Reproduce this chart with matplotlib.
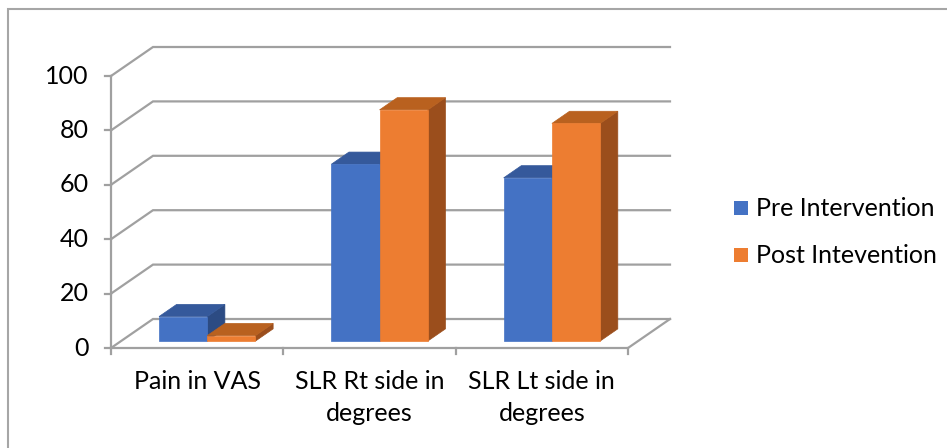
import matplotlib
matplotlib.use("Agg")
import matplotlib.pyplot as plt
from matplotlib.patches import Polygon, Rectangle

plt.rcParams['font.family'] = ['Lato', 'DejaVu Sans']

# data
categories = ['Pain in VAS', 'SLR Rt side in\ndegrees', 'SLR Lt side in\ndegrees']
pre = [9, 65, 60]
post = [2, 85, 80]
series_names = ['Pre Intervention', 'Post Intevention']
y_ticks = [0, 20, 40, 60, 80, 100]

# colours: front, top, side
blue = ('#4472C4', '#35599B', '#2C4B83')
orange = ('#ED7D31', '#B9611F', '#9B4E1C')
grid_col = '#A0A0A0'

# oblique depth offset in data units (cat units, value units)
DX, DY = 0.2437, 10.66
F0, F1 = 0.24, 0.66      # bar depth span as a fraction of floor depth
BW = 0.28
FS = 18

fig = plt.figure(figsize=(9.47, 4.48), dpi=100)
ax = fig.add_axes([111 / 947, 100 / 448, 517 / 947, 272 / 448])
ax.set_xlim(0, 3)
ax.set_ylim(0, 100)
ax.axis('off')

# outer chart border (only left and top visible)
fig.patches.append(Rectangle((8 / 947, -0.1), 1.2, (439 / 448) + 0.1,
                             transform=fig.transFigure, fill=False,
                             edgecolor='#A6A6A6', linewidth=1.5))

lw = 1.6
# gridlines on left wall and back wall
for v in y_ticks:
    ax.plot([0, DX, 3 + DX], [v, v + DY, v + DY], color=grid_col, lw=lw,
            clip_on=False, solid_joinstyle='miter', zorder=1)
    ax.plot([-0.035, 0], [v, v], color=grid_col, lw=lw, clip_on=False, zorder=1)
    ax.text(-0.13, v, str(v), ha='right', va='center', fontsize=FS)

# floor and front axis
ax.plot([0, 3, 3 + DX], [0, 0, DY], color=grid_col, lw=lw, clip_on=False, zorder=1)
ax.plot([0, 0], [0, 100], color=grid_col, lw=lw, clip_on=False, zorder=1)
for i in range(4):
    ax.plot([i, i], [0, -2.3], color=grid_col, lw=lw, clip_on=False, zorder=1)


def bar3d(x0, x1, h, cols, z):
    bx, by = F0 * DX, F0 * DY
    ex, ey = (F1 - F0) * DX, (F1 - F0) * DY
    fx0, fx1 = x0 + bx, x1 + bx
    front = [(fx0, by), (fx1, by), (fx1, by + h), (fx0, by + h)]
    top = [(fx0, by + h), (fx1, by + h), (fx1 + ex, by + h + ey), (fx0 + ex, by + h + ey)]
    side = [(fx1, by), (fx1 + ex, by + ey), (fx1 + ex, by + h + ey), (fx1, by + h)]
    for pts, c in ((side, cols[2]), (top, cols[1]), (front, cols[0])):
        ax.add_patch(Polygon(pts, closed=True, facecolor=c, edgecolor=c,
                             lw=0.5, clip_on=False, zorder=z))


for i in range(len(categories)):
    bar3d(i + 0.5 - BW, i + 0.5, pre[i], blue, 3 + 2 * i)
    bar3d(i + 0.5, i + 0.5 + BW, post[i], orange, 4 + 2 * i)
    ax.text(i + 0.5, -8, categories[i], ha='center', va='top', fontsize=FS,
            linespacing=1.5)

# legend
for k, (name, cols) in enumerate(zip(series_names, (blue, orange))):
    yy = 1 - (208 + 47 * k) / 448
    fig.patches.append(Rectangle((734 / 947, yy - 7 / 448), 14 / 947, 14 / 448,
                                 transform=fig.transFigure, facecolor=cols[0],
                                 edgecolor='none'))
    fig.text(756 / 947, yy, name, ha='left', va='center', fontsize=FS)

fig.savefig('out.png', dpi=100)
